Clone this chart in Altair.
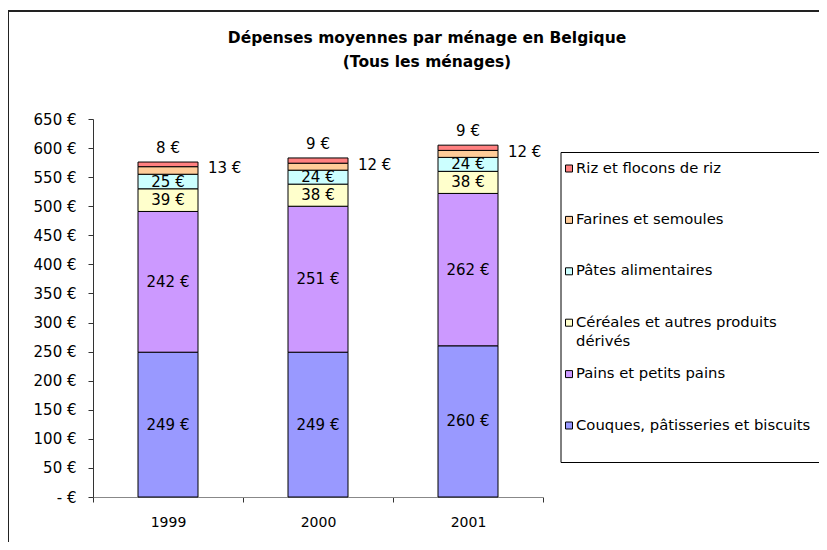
import altair as alt
import pandas as pd

# ---- data ----
years = ["1999", "2000", "2001"]
categories = [
    "Couques, pâtisseries et biscuits",
    "Pains et petits pains",
    "Céréales et autres produits dérivés",
    "Pâtes alimentaires",
    "Farines et semoules",
    "Riz et flocons de riz",
]
couques = [249, 249, 260]
pains = [242, 251, 262]
cereales = [39, 38, 38]
pates = [25, 24, 24]
farines = [13, 12, 12]
riz = [8, 9, 9]
colors = ["#9999FF", "#CC99FF", "#FFFFCC", "#CCFFFF", "#FFCC99", "#FF8080"]
y_ticks = list(range(0, 651, 50))
title1 = "Dépenses moyennes par ménage en Belgique"
title2 = "(Tous les ménages)"
legend_line1 = ["Riz et flocons de riz", "Farines et semoules", "Pâtes alimentaires",
                "Céréales et autres produits", "Pains et petits pains",
                "Couques, pâtisseries et biscuits"]
legend_line2 = ["", "", "", "dérivés", "", ""]

series = [couques, pains, cereales, pates, farines, riz]
rows = []
for ci, (cat, vals) in enumerate(zip(categories, series)):
    for y, v in zip(years, vals):
        rows.append({"year": y, "category": cat, "value": v, "order": ci})
df = pd.DataFrame(rows)

legend_df = pd.DataFrame({
    "category": list(reversed(categories)),
    "row": list(range(6)),
    "line1": legend_line1,
    "line2": legend_line2,
})

FONT = "DejaVu Sans"
FS = 15
LFS = 14.8
W, H = 450, 378

yscale = alt.Scale(domain=[0, 650], nice=False, zero=True)
xscale = alt.Scale(domain=years, paddingInner=0, paddingOuter=0)
cscale = alt.Scale(domain=categories, range=colors)
lscale = alt.Scale(domain=[0, 5], range=[49.5, 306.5], nice=False, zero=False)

xaxis = alt.Axis(title=None, labelAngle=0, tickBand="extent", tickSize=5,
                 labelPadding=13, domainColor="#888888", tickColor="#333333",
                 labelFontSize=14, labelColor="black", labelFont=FONT)

base = (
    alt.Chart(df)
    .transform_stack(stack="value", groupby=["year"],
                     sort=[alt.SortField("order", "ascending")], as_=["y0", "y1"])
    .transform_calculate(mid="(datum.y0 + datum.y1) / 2",
                         label="datum.value + ' €'")
)

bars = base.mark_bar(size=60, stroke="black", strokeWidth=1).encode(
    x=alt.X("year:N", scale=xscale, sort=years, axis=xaxis),
    y=alt.Y("y0:Q", scale=yscale,
            axis=alt.Axis(title=None, values=y_ticks, grid=False, tickSize=5,
                          labelPadding=12, domainColor="#333333", tickColor="#333333",
                          labelFontSize=FS, labelColor="black", labelFont=FONT,
                          labelExpr="datum.value == 0 ? '- €' : datum.value + ' €'")),
    y2="y1:Q",
    color=alt.Color("category:N", scale=cscale, legend=None),
)

inner = base.transform_filter(
    alt.FieldOneOfPredicate(field="category", oneOf=categories[:4])
).mark_text(fontSize=FS, font=FONT, color="black", baseline="middle").encode(
    x=alt.X("year:N", scale=xscale, sort=years, axis=xaxis),
    y=alt.Y("mid:Q", scale=yscale, axis=None),
    text="label:N",
)

side = base.transform_filter(
    alt.FieldEqualPredicate(field="category", equal=categories[4])
).mark_text(fontSize=FS, font=FONT, color="black", baseline="middle",
            align="left", dx=40, dy=-2).encode(
    x=alt.X("year:N", scale=xscale, sort=years, axis=xaxis),
    y=alt.Y("mid:Q", scale=yscale, axis=None),
    text="label:N",
)

top = base.transform_filter(
    alt.FieldEqualPredicate(field="category", equal=categories[5])
).mark_text(fontSize=FS, font=FONT, color="black", baseline="middle", dy=-14).encode(
    x=alt.X("year:N", scale=xscale, sort=years, axis=xaxis),
    y=alt.Y("y1:Q", scale=yscale, axis=None),
    text="label:N",
)

one = pd.DataFrame({"k": [0]})

border_top = alt.Chart(one).mark_rule(color="#222222", strokeWidth=2).encode(
    x=alt.value(-85), x2=alt.value(726), y=alt.value(-108))
border_left = alt.Chart(one).mark_rule(color="#222222", strokeWidth=2).encode(
    x=alt.value(-85), y=alt.value(-109), y2=alt.value(423))

t1 = alt.Chart(one).mark_text(fontSize=15.5, fontWeight="bold", font=FONT,
                              color="black", baseline="middle").encode(
    x=alt.value(334), y=alt.value(-81), text=alt.value(title1))
t2 = alt.Chart(one).mark_text(fontSize=15.5, fontWeight="bold", font=FONT,
                              color="black", baseline="middle").encode(
    x=alt.value(334), y=alt.value(-57), text=alt.value(title2))

legend_box = alt.Chart(one).mark_rect(fill="white", stroke="black", strokeWidth=1).encode(
    x=alt.value(468), x2=alt.value(730), y=alt.value(33.5), y2=alt.value(343.5))

leg_sym = alt.Chart(legend_df).mark_square(size=49, stroke="black", strokeWidth=1,
                                           opacity=1, filled=True).encode(
    x=alt.value(476),
    y=alt.Y("row:Q", scale=lscale, axis=None),
    color=alt.Color("category:N", scale=cscale, legend=None),
)
leg_txt1 = alt.Chart(legend_df).mark_text(fontSize=LFS, font=FONT, color="black",
                                          align="left", baseline="middle").encode(
    x=alt.value(483),
    y=alt.Y("row:Q", scale=lscale, axis=None),
    text="line1:N",
)
leg_txt2 = alt.Chart(legend_df).mark_text(fontSize=LFS, font=FONT, color="black",
                                          align="left", baseline="middle", dy=19).encode(
    x=alt.value(483),
    y=alt.Y("row:Q", scale=lscale, axis=None),
    text="line2:N",
)

chart = (
    alt.layer(border_top, border_left, t1, t2, bars, inner, side, top,
              legend_box, leg_sym, leg_txt1, leg_txt2)
    .properties(width=W, height=H,
                autosize=alt.AutoSizeParams(type="none"),
                padding={"left": 85, "top": 111, "right": 276, "bottom": 45})
    .resolve_scale(y="independent")
    .configure(font=FONT)
    .configure_view(stroke="transparent", strokeWidth=0)
)

chart.save("out.html", embed_options={"renderer": "svg", "actions": False})
